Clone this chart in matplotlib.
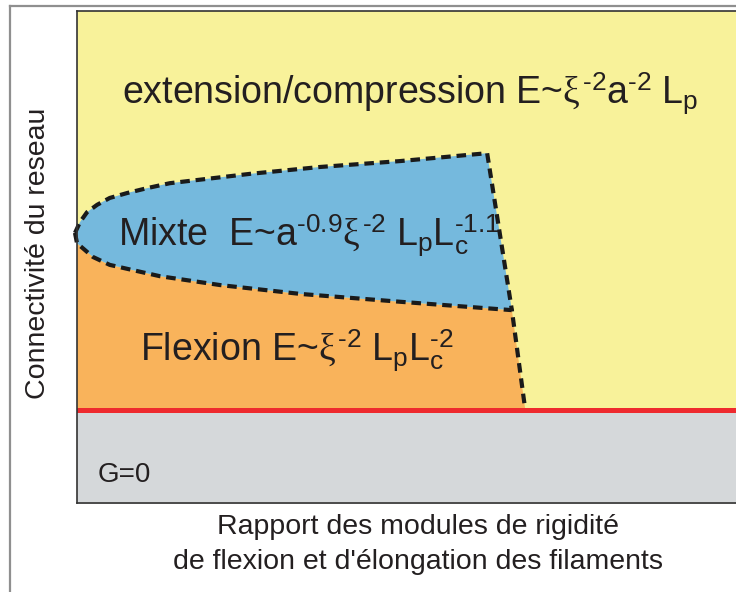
import matplotlib
matplotlib.use("Agg")
import matplotlib.pyplot as plt
from matplotlib.lines import Line2D

plt.rcParams['font.family'] = ['Liberation Sans', 'DejaVu Sans']
plt.rcParams['mathtext.fontset'] = 'custom'
plt.rcParams['mathtext.rm'] = 'Liberation Sans'
plt.rcParams['mathtext.it'] = 'Liberation Serif'

# frontières du diagramme (unités arbitraires 0-100)
upper_x = [-0.3, 0.45, 1.5, 3.0, 4.9, 7.5, 10.5, 13.9, 25.9, 36.4, 48.4, 61.4]
upper_y = [54.9, 57.1, 59.1, 60.6, 62.0, 63.0, 64.0, 65.0, 66.9, 68.3, 69.5, 71.1]
lower_x = [-0.3, 0.0, 2.4, 4.9, 7.5, 12.4, 21.4, 33.4, 48.4, 65.1]
lower_y = [54.9, 52.8, 50.0, 48.4, 47.6, 46.1, 44.3, 42.5, 40.9, 39.2]
flex_end_x = 67.1
g0_level = 19.0

c_yellow = '#F8F29A'
c_blue = '#75B9DD'
c_orange = '#F9B35B'
c_gray = '#D5D8DA'
c_red = '#EE2A2E'

fig = plt.figure(figsize=(7.36, 5.92), dpi=100)
ax = fig.add_axes([77 / 736, 89 / 592, 668 / 736, 492 / 592])
ax.set_xlim(0, 100)
ax.set_ylim(0, 100)
ax.set_facecolor(c_yellow)

# zone G=0
ax.fill_between([0, 100], 0, g0_level, color=c_gray, zorder=1)

# zone flexion
fx = [0, 0] + lower_x[1:] + [flex_end_x]
fy = [g0_level, lower_y[1]] + lower_y[1:] + [g0_level]
ax.fill(fx, fy, color=c_orange, zorder=1, lw=0)

# zone mixte
mx = upper_x + lower_x[::-1]
my = upper_y + lower_y[::-1]
ax.fill(mx, my, color=c_blue, zorder=2, lw=0, clip_on=False)

# frontières en pointillés
dash = dict(color='#1a1a1a', lw=3.0, dashes=(2.3, 1.4), zorder=3, clip_on=False)
ax.plot(upper_x + [lower_x[-1]], upper_y + [lower_y[-1]], **dash)
ax.plot(lower_x + [flex_end_x], lower_y + [g0_level], **dash)

ax.axhline(g0_level, color=c_red, lw=3.6, zorder=4)

for s in ax.spines.values():
    s.set_color('#333333')
    s.set_linewidth(1.2)
    s.set_zorder(5)
ax.set_xticks([])
ax.set_yticks([])

fs = 27
txt = '#231f20'
ax.text(6.7, 81.1, r'extension/compression E~$\xi^{\text{-2}}\mathrm{a}^{\text{-2}}\ \mathrm{L_p}$',
        fontsize=fs, color=txt, va='baseline', ha='left', zorder=6)
ax.text(6.1, 52.2, r'Mixte  E~$\mathrm{a}^{\text{-0.9}}\xi^{\text{-2}}\ \mathrm{L_pL}_\mathrm{c}^{\text{-1.1}}$',
        fontsize=fs, color=txt, va='baseline', ha='left', zorder=6)
ax.text(9.4, 28.9, r'Flexion E~$\xi^{\text{-2}}\ \mathrm{L_pL}_\mathrm{c}^{\text{-2}}$',
        fontsize=fs, color=txt, va='baseline', ha='left', zorder=6)
ax.text(3.1, 4.3, 'G=0', fontsize=20, color=txt, va='baseline', ha='left', zorder=6)

fig.text(38 / 736, 1 - 253 / 592, 'Connectivité du reseau', rotation=90,
         fontsize=20.5, color=txt, ha='center', va='center')
fig.text(418 / 736, 1 - 527 / 592, 'Rapport des modules de rigidité',
         fontsize=20.5, color=txt, ha='center', va='center')
fig.text(418 / 736, 1 - 562 / 592, "de flexion et d'élongation des filaments",
         fontsize=20.5, color=txt, ha='center', va='center')

# cadre extérieur
fig.add_artist(Line2D([10 / 736, 10 / 736], [0, 1 - 6 / 592], color='#8f8f8f', lw=1.6))
fig.add_artist(Line2D([10 / 736, 1], [1 - 6 / 592, 1 - 6 / 592], color='#8f8f8f', lw=1.6))

fig.savefig('out.png', dpi=100)
